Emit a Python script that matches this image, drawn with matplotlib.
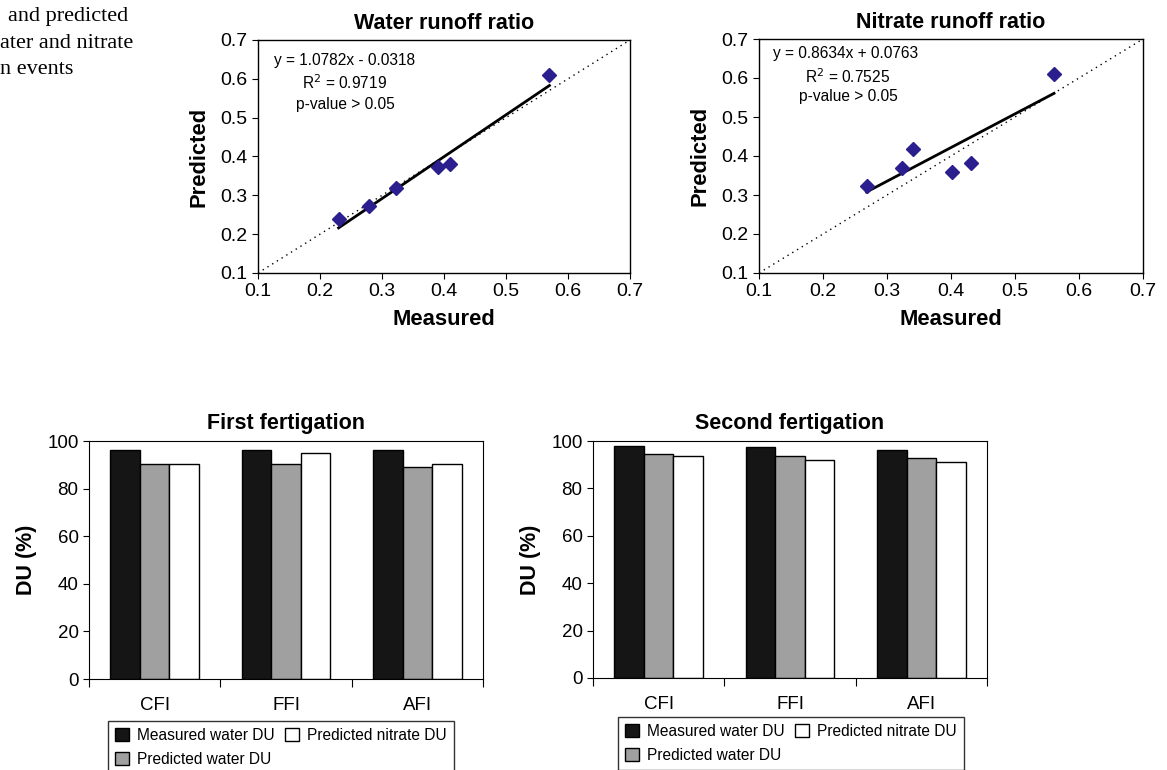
import numpy as np
import matplotlib.pyplot as plt

plt.rcParams["font.family"] = ["Liberation Sans", "DejaVu Sans"]

W, H = 1167, 770

# scatter data (measured, predicted)
water_meas = [0.23, 0.279, 0.323, 0.391, 0.409, 0.570]
water_pred = [0.239, 0.273, 0.320, 0.372, 0.381, 0.610]
water_fit = (1.0782, -0.0318)

nitrate_meas = [0.268, 0.324, 0.341, 0.402, 0.432, 0.561]
nitrate_pred = [0.322, 0.368, 0.418, 0.360, 0.383, 0.609]
nitrate_fit = (0.8634, 0.0763)

# bar data
methods = ["CFI", "FFI", "AFI"]
first_meas_water = [96.4, 96.1, 96.1]
first_pred_water = [90.5, 90.5, 89.1]
first_pred_nitrate = [90.5, 94.8, 90.5]
second_meas_water = [98.0, 97.6, 96.3]
second_pred_water = [94.7, 93.8, 93.0]
second_pred_nitrate = [93.8, 91.9, 91.0]


def px_axes(fig, left, top, right, bottom):
    return fig.add_axes([left / W, 1 - bottom / H, (right - left) / W, (bottom - top) / H])


fig = plt.figure(figsize=(W / 100, H / 100), dpi=100)

# cropped caption in the corner
cap = dict(family=["Liberation Serif", "DejaVu Serif"], fontsize=16, va="center", ha="left")
fig.text(8 / W, 1 - 17 / H, "and predicted", **cap)
fig.text(0 / W, 1 - 43 / H, "ater and nitrate", **cap)
fig.text(0 / W, 1 - 70 / H, "n events", **cap)


def scatter_panel(ax, x, y, fit, title, eq_pos, eq):
    ax.plot([0.1, 0.7], [0.1, 0.7], color="k", linestyle=(0, (1, 3)), linewidth=1)
    xs = np.array([min(x), max(x)])
    ax.plot(xs, fit[0] * xs + fit[1], color="k", linewidth=2)
    ax.plot(x, y, linestyle="none", marker="D", markersize=7, color="#2b1f8f")
    ax.set_xlim(0.1, 0.7)
    ax.set_ylim(0.1, 0.7)
    ax.set_xticks(np.arange(0.1, 0.71, 0.1))
    ax.set_yticks(np.arange(0.1, 0.71, 0.1))
    ax.set_xticklabels(["0.1", "0.2", "0.3", "0.4", "0.5", "0.6", "0.7"])
    ax.set_yticklabels(["0.1", "0.2", "0.3", "0.4", "0.5", "0.6", "0.7"])
    ax.tick_params(labelsize=14, length=4, direction="out")
    ax.set_title(title, fontsize=15.5, fontweight="bold", pad=8)
    ax.set_xlabel("Measured", fontsize=15.8, fontweight="bold", labelpad=6)
    ax.set_ylabel("Predicted", fontsize=15.8, fontweight="bold", labelpad=8)
    for (tx, ty), s in zip(eq_pos, eq):
        ax.text(tx, ty, s, fontsize=11.2, ha="center", va="center")
    for sp in ax.spines.values():
        sp.set_linewidth(1.0)


ax1 = px_axes(fig, 258, 40, 630, 273)
scatter_panel(ax1, water_meas, water_pred, water_fit, "Water runoff ratio",
              [(0.239, 0.646), (0.239, 0.589), (0.241, 0.533)],
              ["y = 1.0782x - 0.0318", "R$^2$ = 0.9719", "p-value > 0.05"])

ax2 = px_axes(fig, 759, 39, 1143, 273)
scatter_panel(ax2, nitrate_meas, nitrate_pred, nitrate_fit, "Nitrate runoff ratio",
              [(0.236, 0.662), (0.238, 0.604), (0.240, 0.552)],
              ["y = 0.8634x + 0.0763", "R$^2$ = 0.7525", "p-value > 0.05"])


def bar_panel(ax, meas, pw, pn, title, leg_left, leg_top):
    x = np.arange(len(methods))
    bw = 0.225
    b1 = ax.bar(x - bw, meas, bw, color="#151515", edgecolor="k", linewidth=1)
    b2 = ax.bar(x, pw, bw, color="#a0a0a0", edgecolor="k", linewidth=1)
    b3 = ax.bar(x + bw, pn, bw, color="white", edgecolor="k", linewidth=1)
    ax.set_xlim(-0.5, 2.5)
    ax.set_ylim(0, 100)
    ax.set_yticks([0, 20, 40, 60, 80, 100])
    ax.set_xticks([-0.5, 0.5, 1.5, 2.5])
    ax.set_xticklabels([])
    ax.set_xticks(x, minor=True)
    ax.set_xticklabels(methods, minor=True)
    ax.tick_params(axis="x", which="major", length=6)
    ax.tick_params(axis="x", which="minor", length=0, pad=13, labelsize=13.5)
    ax.tick_params(axis="y", labelsize=13.5, length=4)
    ax.set_title(title, fontsize=15.5, fontweight="bold", pad=9)
    ax.set_ylabel("DU (%)", fontsize=15.5, fontweight="bold", labelpad=7)
    leg = fig.legend([b1, b2, b3], ["Measured water DU", "Predicted water DU", "Predicted nitrate DU"],
                     ncol=2, loc="upper left", bbox_to_anchor=(leg_left / W, 1 - leg_top / H),
                     fontsize=11.2, frameon=True, fancybox=False, edgecolor="k",
                     handlelength=0.92, handleheight=0.92, handletextpad=0.5,
                     columnspacing=0.65, labelspacing=0.55, borderpad=0.45, borderaxespad=0)
    leg.get_frame().set_linewidth(1.0)


ax3 = px_axes(fig, 89, 441, 483, 679)
bar_panel(ax3, first_meas_water, first_pred_water, first_pred_nitrate, "First fertigation", 108, 721)

ax4 = px_axes(fig, 593, 441, 987, 678)
bar_panel(ax4, second_meas_water, second_pred_water, second_pred_nitrate, "Second fertigation", 618, 717)

plt.savefig("out.png", dpi=100)
